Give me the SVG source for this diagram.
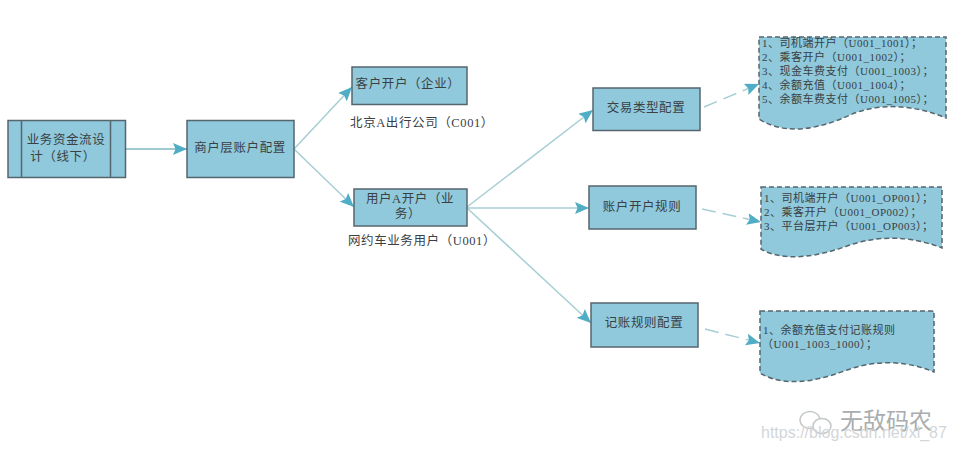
<svg xmlns="http://www.w3.org/2000/svg" width="954" height="451" viewBox="0 0 954 451">
<defs>
<style>
.box{fill:#8fc9db;stroke:#56666e;stroke-width:1.5}
.doc{fill:#8fc9db;stroke:#56666e;stroke-width:1.5;stroke-dasharray:5 3}
.c{fill:none;stroke:#a6ced4;stroke-width:1.5}
.d{stroke-dasharray:14 7}
text{font-family:"Liberation Serif","Noto Sans CJK SC",serif;fill:#3a4044}
.t{font-size:12.500px;text-anchor:middle;letter-spacing:.6px}
.s{font-size:11px;letter-spacing:.5px}
</style>
<marker id="a" markerUnits="userSpaceOnUse" markerWidth="15" markerHeight="12" refX="14" refY="6" orient="auto"><path d="M0 0L14 6L0 12L2.500 6Z" fill="#4fadc5"/></marker>
</defs>
<rect width="954" height="451" fill="#fff"/>
<g id="connectors">
<path class="c" style="stroke:#7fb7c4" d="M125.500 149H187" marker-end="url(#a)"/>
<path class="c" d="M294 149L352 87" marker-end="url(#a)"/>
<path class="c" d="M294 149L354 207" marker-end="url(#a)"/>
<path class="c" d="M467 207L593 110" marker-end="url(#a)"/>
<path class="c" d="M467 208H589" marker-end="url(#a)"/>
<path class="c" d="M467 208L591 323" marker-end="url(#a)"/>
<path class="c d" d="M704 107L759 84" marker-end="url(#a)"/>
<path class="c d" d="M702 209L761 222" marker-end="url(#a)"/>
<path class="c d" d="M705 329L760 343" marker-end="url(#a)"/>
</g>
<g id="n1"><rect class="box" x="8" y="120.500" width="117.500" height="57"/><path class="box" d="M21.500 120.500V177.500M110.500 120.500V177.500"/><text class="t" x="66" y="144">业务资金流设</text><text class="t" x="63" y="161">计（线下）</text></g>
<g id="n2"><rect class="box" x="187" y="120.500" width="107" height="57"/><text class="t" x="240" y="152">商户层账户配置</text></g>
<g id="n3"><rect class="box" x="352" y="67" width="115" height="37.500"/><text class="t" x="408" y="88">客户开户（企业）</text></g>
<text id="l1" class="t" x="422" y="127">北京A出行公司（C001）</text>
<g id="n4"><rect class="box" x="354" y="189" width="113" height="37"/><text class="t" x="410" y="203">用户A开户（业</text><text class="t" x="408" y="218">务）</text></g>
<text id="l2" class="t" x="422" y="245">网约车业务用户（U001）</text>
<g id="n5"><rect class="box" x="593" y="88" width="107" height="42.500"/><text class="t" x="646" y="112">交易类型配置</text></g>
<g id="n6"><rect class="box" x="589" y="186" width="107" height="43"/><text class="t" x="642" y="211">账户开户规则</text></g>
<g id="n7"><rect class="box" x="591" y="303" width="107" height="44"/><text class="t" x="644" y="327">记账规则配置</text></g>
<g id="d1"><path class="doc" d="M759 37H946V118C915 105 880 102 850 115C820 129 785 136 759 119Z"/>
<text class="s" x="762" y="47">1、司机端开户（U001_1001）；</text><text class="s" x="762" y="61">2、乘客开户（U001_1002）；</text><text class="s" x="762" y="75">3、现金车费支付（U001_1003）；</text><text class="s" x="762" y="89">4、余额充值（U001_1004）；</text><text class="s" x="762" y="103">5、余额车费支付（U001_1005）；</text></g>
<g id="d2"><path class="doc" d="M761 187H942V248C912 236 880 235 850 245C820 256 785 263 761 249Z"/>
<text class="s" x="764" y="202">1、司机端开户（U001_OP001）；</text><text class="s" x="764" y="216">2、乘客开户（U001_OP002）；</text><text class="s" x="764" y="230">3、平台层开户（U001_OP003）；</text></g>
<g id="d3"><path class="doc" d="M760 311H934V372C905 360 875 360 847 370C818 381 785 388 760 373Z"/>
<text class="s" x="763" y="334">1、余额充值支付记账规则</text><text class="s" x="762" y="348">（U001_1003_1000）；</text></g>
<g id="watermark">
<ellipse cx="810" cy="420" rx="10" ry="8.500" fill="none" stroke="#c4c8c9" stroke-width="1.500"/>
<ellipse cx="822" cy="426" rx="9" ry="7.500" fill="#fff" stroke="#c4c8c9" stroke-width="1.500"/>
<text x="840" y="429" style="font-size:23px;fill:#a9adae">无敌码农</text>
<text x="761" y="438" style="font-family:'Liberation Sans',sans-serif;font-size:16px;fill:#d3d6d8">https://blog.csdn.net/xl_87</text>
</g>
</svg>
